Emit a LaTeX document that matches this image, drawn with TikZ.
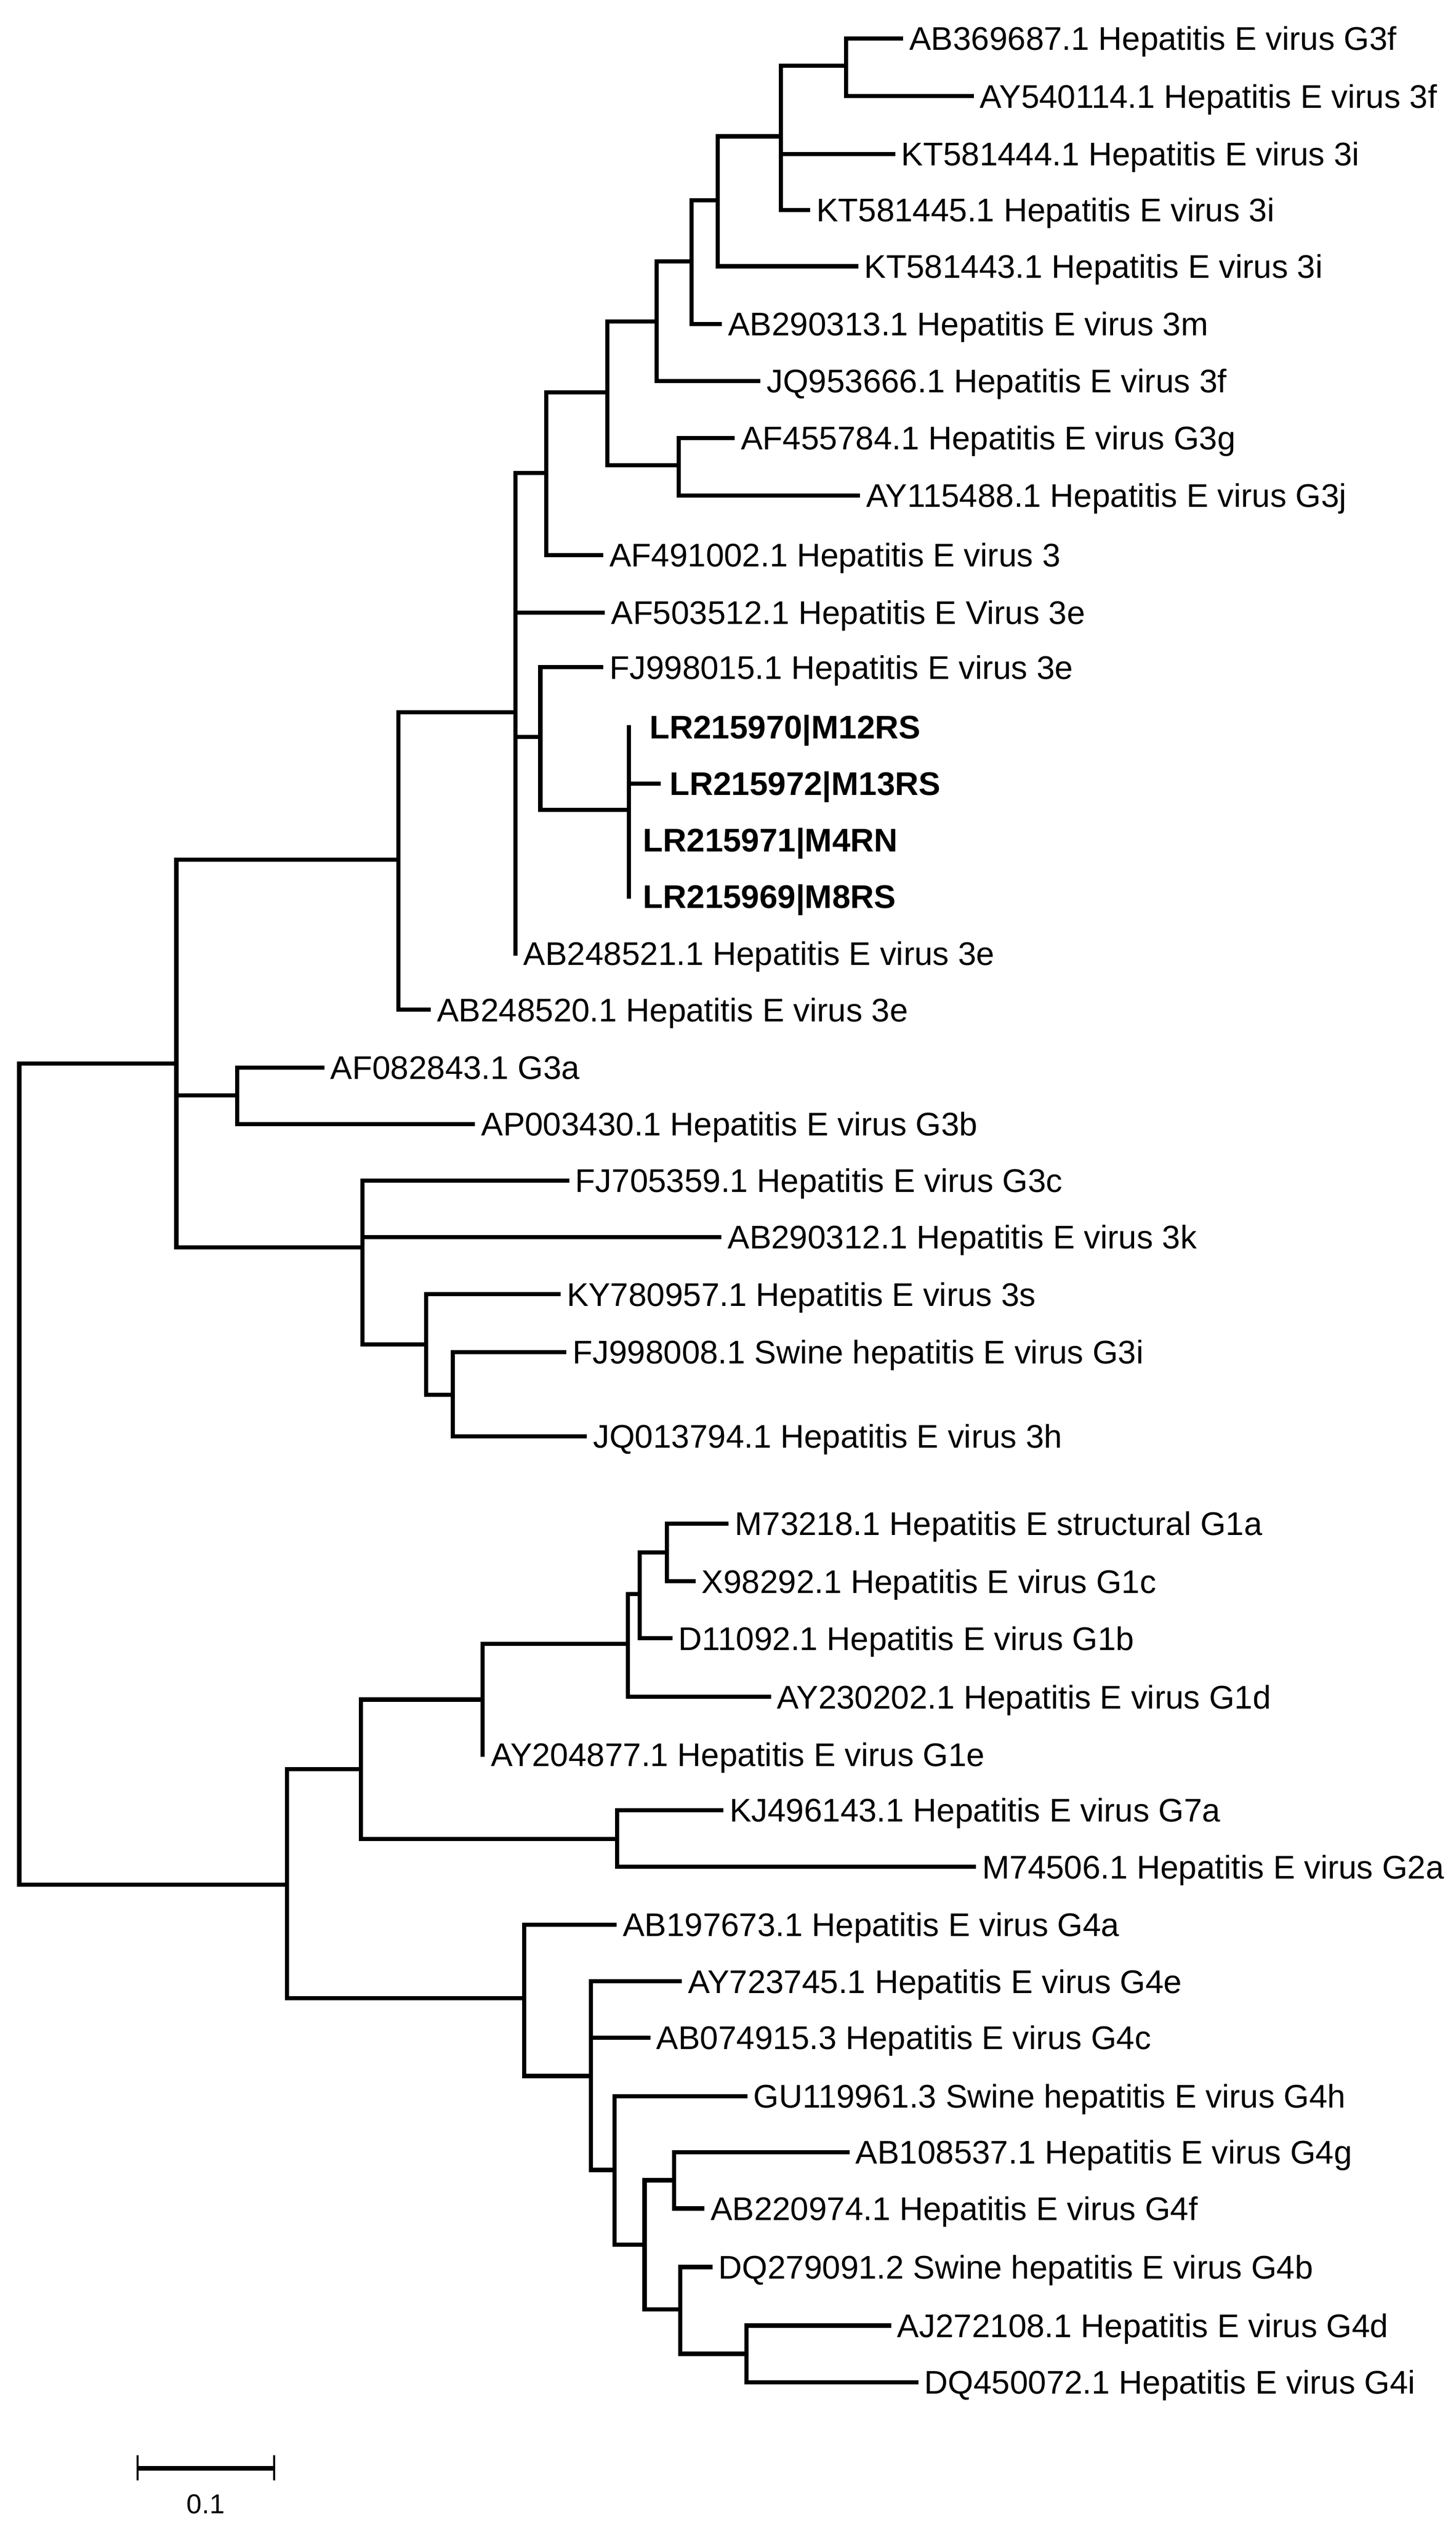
\documentclass[tikz,border=0pt]{standalone}
\usepackage{fontspec}
\setmainfont{Liberation Sans}
\begin{document}
\begin{tikzpicture}[x=1pt,y=-1pt,
  br/.style={line width=2.6pt,line join=miter,line cap=rect},
  lab/.style={inner sep=0pt,anchor=west,text height=14.6pt,text depth=0pt,font=\fontsize{20.4}{24}\selectfont},
  blab/.style={lab,font=\fontsize{20.4}{24}\selectfont\bfseries}]
\useasboundingbox[fill=white] (0,0) rectangle (908,1572.5);
\newcommand\lf[5][lab]{\coordinate (#2) at (#3,#4); \node[#1] (#2t) at ([xshift=5pt]#2) {#5};}
\newcommand\lfat[5][blab]{\coordinate (#2) at (#3,#4); \node[#1] (#2t) at (#3+#5,#4) {\csname lbl#2\endcsname};}
% internal nodes
\coordinate (r) at (12,918);
\coordinate (A) at (110,663);
\coordinate (B) at (248.6,536);
\coordinate (C) at (148,683);
\coordinate (D) at (226,777.7);
\coordinate (T3) at (321.4,444);
\coordinate (U) at (340.6,295);
\coordinate (W) at (378.8,244.5);
\coordinate (X) at (409.5,200.5);
\coordinate (Y) at (423.2,290);
\coordinate (Z) at (431.4,163);
\coordinate (Q1) at (447.7,125);
\coordinate (Q2) at (487,85);
\coordinate (Q3) at (527.6,41);
\coordinate (V) at (337,459.6);
\coordinate (LRn) at (392.2,505);
\coordinate (D2) at (265.8,838.2);
\coordinate (D3) at (282.5,869.6);
\coordinate (E) at (179,1175);
\coordinate (F) at (225,1103);
\coordinate (G) at (301,1059.7);
\coordinate (H) at (391.7,1025);
\coordinate (I) at (399,994);
\coordinate (J) at (416,968);
\coordinate (K) at (384.8,1146.6);
\coordinate (L) at (326.8,1246);
\coordinate (M) at (368.5,1294.4);
\coordinate (N) at (383.3,1353);
\coordinate (O) at (402,1399.6);
\coordinate (P) at (420.3,1359.4);
\coordinate (Q) at (424.4,1440);
\coordinate (R) at (465.7,1467.6);
% leaves
\lf{l1}{562}{24}{AB369687.1 Hepatitis E virus G3f}
\lf{l2}{606}{60}{AY540114.1 Hepatitis E virus 3f}
\lf{l3}{557}{96}{KT581444.1 Hepatitis E virus 3i}
\lf{l4}{504}{131}{KT581445.1 Hepatitis E virus 3i}
\lf{l5}{534}{166}{KT581443.1 Hepatitis E virus 3i}
\lf{l6}{449}{202}{AB290313.1 Hepatitis E virus 3m}
\lf{l7}{473}{237.5}{JQ953666.1 Hepatitis E virus 3f}
\lf{l8}{457}{273}{AF455784.1 Hepatitis E virus G3g}
\lf{l9}{535}{309}{AY115488.1 Hepatitis E virus G3j}
\lf{l10}{375}{346}{AF491002.1 Hepatitis E virus 3}
\lf{l11}{376}{382}{AF503512.1 Hepatitis E Virus 3e}
\lf{l12}{375}{416}{FJ998015.1 Hepatitis E virus 3e}
\coordinate (l13) at (392.2,453.3); \node[blab] (l13t) at (405,453.3) {LR215970|M12RS};
\coordinate (l14) at (410.8,488.5); \node[blab] (l14t) at (417.5,488.5) {LR215972|M13RS};
\coordinate (l15) at (392.2,523.6); \node[blab] (l15t) at (400.9,523.6) {LR215971|M4RN};
\coordinate (l16) at (392.2,559); \node[blab] (l16t) at (400.9,559) {LR215969|M8RS};
\lf{l17}{321.4}{594.5}{AB248521.1 Hepatitis E virus 3e}
\lf{l18}{267.4}{629.6}{AB248520.1 Hepatitis E virus 3e}
\lf{l19}{201}{665.7}{AF082843.1 G3a}
\lf{l20}{295}{700.8}{AP003430.1 Hepatitis E virus G3b}
\lf{l21}{353.7}{736}{FJ705359.1 Hepatitis E virus G3c}
\lf{l22}{448.7}{771.4}{AB290312.1 Hepatitis E virus 3k}
\lf{l23}{348.3}{807}{KY780957.1 Hepatitis E virus 3s}
\lf{l24}{352}{843}{FJ998008.1 Swine hepatitis E virus G3i}
\lf{l25}{364.8}{895.6}{JQ013794.1 Hepatitis E virus 3h}
\lf{l26}{453.2}{950}{M73218.1 Hepatitis E structural G1a}
\lf{l27}{432.5}{986}{X98292.1 Hepatitis E virus G1c}
\lf{l28}{418}{1021.5}{D11092.1 Hepatitis E virus G1b}
\lf{l29}{479.5}{1058}{AY230202.1 Hepatitis E virus G1d}
\lf{l30}{301}{1094}{AY204877.1 Hepatitis E virus G1e}
\lf{l31}{449.8}{1128.7}{KJ496143.1 Hepatitis E virus G7a}
\lf{l32}{607.5}{1164}{M74506.1 Hepatitis E virus G2a}
\lf{l33}{383.3}{1200}{AB197673.1 Hepatitis E virus G4a}
\lf{l34}{424}{1235.4}{AY723745.1 Hepatitis E virus G4e}
\lf{l35}{404.3}{1270.5}{AB074915.3 Hepatitis E virus G4c}
\lf{l36}{464.8}{1307}{GU119961.3 Swine hepatitis E virus G4h}
\lf{l37}{528.5}{1342}{AB108537.1 Hepatitis E virus G4g}
\lf{l38}{438}{1377}{AB220974.1 Hepatitis E virus G4f}
\lf{l39}{443}{1413.5}{DQ279091.2 Swine hepatitis E virus G4b}
\lf{l40}{554.5}{1450}{AJ272108.1 Hepatitis E virus G4d}
\lf{l41}{571.4}{1485.4}{DQ450072.1 Hepatitis E virus G4i}
% branches
\foreach \p/\cs in {r/{A,E}, A/{B,C,D}, B/{T3,l18}, T3/{U,l11,V,l17}, U/{W,l10},
  W/{X,Y}, X/{Z,l7}, Z/{Q1,l6}, Q1/{Q2,l5}, Q2/{Q3,l3,l4}, Q3/{l1,l2}, Y/{l8,l9},
  V/{l12,LRn}, LRn/{l13,l14,l15,l16}, C/{l19,l20}, D/{l21,l22,D2}, D2/{l23,D3},
  D3/{l24,l25}, E/{F,L}, F/{G,K}, G/{H,l30}, H/{I,l29}, I/{J,l28}, J/{l26,l27},
  K/{l31,l32}, L/{l33,M}, M/{l34,l35,N}, N/{l36,O}, O/{P,Q}, P/{l37,l38},
  Q/{l39,R}, R/{l40,l41}}
  {\foreach \c in \cs {\draw[br] (\p) |- (\c);}}
% scale bar
\coordinate (sb1) at (85.7,1539); \coordinate (sb2) at (171,1539);
\draw[br,line cap=butt] (sb1) -- (sb2);
\draw[line width=1.2pt] ([yshift=-7.5pt]sb1) -- ([yshift=8pt]sb1);
\draw[line width=1.2pt] ([yshift=-7.5pt]sb2) -- ([yshift=8pt]sb2);
\node[lab,anchor=center,font=\fontsize{17}{20}\selectfont] (sbl) at (128.3,1560) {0.1};
\end{tikzpicture}
\end{document}
